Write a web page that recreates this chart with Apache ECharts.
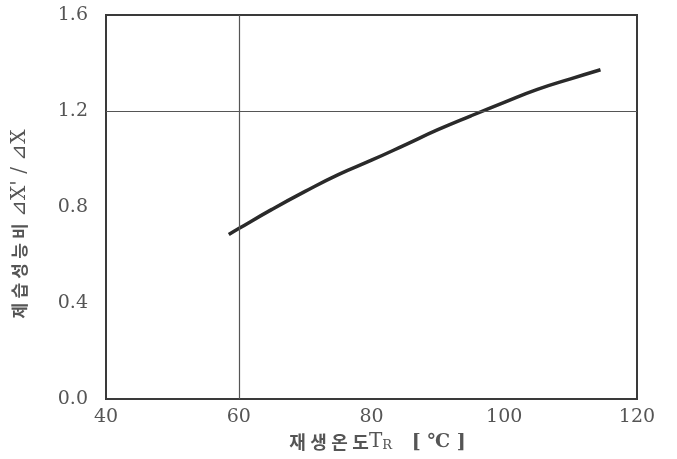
<!DOCTYPE html>
<html>
<head>
<meta charset="utf-8">
<script src="https://cdn.jsdelivr.net/npm/echarts@6/dist/echarts.min.js"></script>
<style>html,body{margin:0;padding:0;background:#fff}#c{width:677px;height:459px}</style>
</head>
<body>
<div id="c"></div>
<script>
const temps = [58.5, 60, 65, 70, 75, 80, 85, 90, 95, 100, 105, 110, 114.5];
const ratio = [0.685, 0.71, 0.79, 0.865, 0.935, 0.995, 1.058, 1.122, 1.18, 1.236, 1.29, 1.334, 1.372];
const xTicks = [40, 60, 80, 100, 120];
const yTicks = [0.0, 0.4, 0.8, 1.2, 1.6];
const refX = 60;
const refY = 1.2;

const chart = echarts.init(document.getElementById('c'));
const serif = '"DejaVu Serif","Liberation Serif",serif';
const kr = '"Noto Sans CJK KR"';
const sp = '\u2005';
chart.setOption({
  animation: false,
  grid: { left: 106, right: 40, top: 15, bottom: 60, show: true, borderColor: '#3a3a3a', borderWidth: 2, backgroundColor: '#fff' },
  xAxis: {
    type: 'value', min: xTicks[0], max: xTicks[xTicks.length-1], interval: 20,
    axisLine: { show: true, lineStyle: { color: '#3a3a3a', width: 2 } },
    axisTick: { show: false }, splitLine: { show: false },
    axisLabel: { fontFamily: serif, fontSize: 19, color: '#555', margin: 9 },
    name: '{k|재' + sp + '생' + sp + '온' + sp + '도}{t|T}{s|R}{b|   [ ℃ ]}', nameLocation: 'middle', nameGap: 33,
    nameTextStyle: {
      padding: [0, 0, 0, 12],
      rich: {
        k: { fontFamily: kr, fontSize: 18, fontWeight: 'bold', color: '#555' },
        t: { fontFamily: serif, fontSize: 20, color: '#555' },
        s: { fontFamily: serif, fontSize: 13, color: '#555', verticalAlign: 'bottom', padding: [6,0,0,0] },
        b: { fontFamily: serif, fontSize: 19, color: '#555', fontWeight: 'bold' }
      }
    }
  },
  yAxis: {
    type: 'value', min: yTicks[0], max: yTicks[yTicks.length-1], interval: 0.4,
    axisLine: { show: true, lineStyle: { color: '#3a3a3a', width: 2 } },
    axisTick: { show: false }, splitLine: { show: false },
    axisLabel: { fontFamily: serif, fontSize: 19, color: '#555', margin: 18, formatter: v => v.toFixed(1) },
    name: '{k|제' + sp + '습' + sp + '성' + sp + '능' + sp + '비}{t| ⊿X\' / ⊿X}', nameLocation: 'middle', nameGap: 76, nameRotate: 90,
    nameTextStyle: {
      padding: [0, 34, 0, 0],
      rich: {
        k: { fontFamily: kr, fontSize: 17, fontWeight: 'bold', color: '#555' },
        t: { fontFamily: serif, fontSize: 20, color: '#555' }
      }
    }
  },
  series: [{
    type: 'line',
    data: temps.map((t, i) => [t, ratio[i]]),
    smooth: true, showSymbol: false,
    lineStyle: { color: '#2a2a2a', width: 3.5 },
    markLine: {
      silent: true, symbol: 'none', label: { show: false },
      lineStyle: { color: '#555', width: 1.2, type: 'solid' },
      data: [{ xAxis: refX }, { yAxis: refY }]
    }
  }]
});
</script>
</body>
</html>
